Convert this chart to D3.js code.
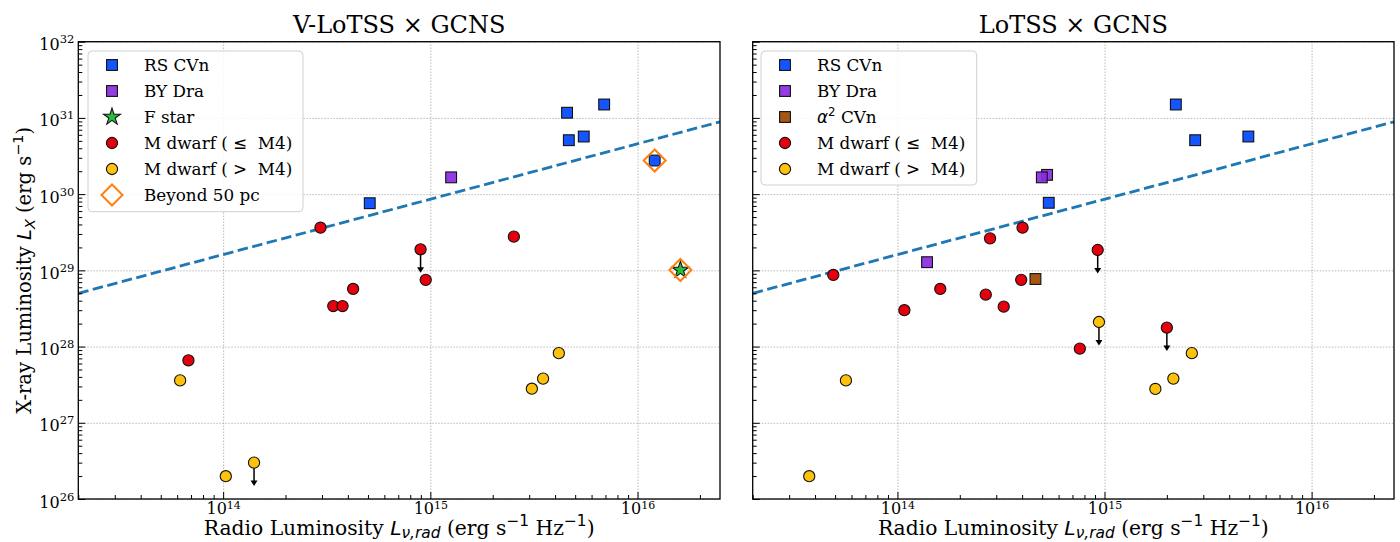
<!DOCTYPE html>
<html>
<head>
<meta charset="utf-8">
<script src="https://cdn.jsdelivr.net/npm/d3@7"></script>
<style>
body { margin: 0; background: #fff; }
svg text { font-family: "DejaVu Serif", serif; white-space: pre; fill: #000; }
</style>
</head>
<body>
<svg id="chart" width="1400" height="542"></svg>
<script>
/* --- Shared axes --- */
var xDomain = [2e13, 2.5e16];
var yDomain = [1e26, 1e32];
var xMajor = [1e14, 1e15, 1e16];
var yMajor = [1e26, 1e27, 1e28, 1e29, 1e30, 1e31, 1e32];

// dashed relation, two end points
var relLr = [2e13, 2.5e16];
var relLx = [5e28, 8.9e30];

/* --- V-LoTSS x GCNS --- */
var vRsCvnLr = [5.1e14, 4.57e15, 4.66e15, 5.5e15, 6.9e15, 1.21e16];
var vRsCvnLx = [7.6e29, 1.17e31, 5.1e30, 5.7e30, 1.5e31, 2.76e30];
var vByDraLr = [1.26e15];
var vByDraLx = [1.66e30];
var vFStarLr = [1.61e16];
var vFStarLx = [1.01e29];
var vMEarlyLr = [6.8e13, 2.95e14, 3.4e14, 3.77e14, 4.24e14, 8.97e14, 9.5e14, 2.53e15];
var vMEarlyLx = [6.6e27, 3.63e29, 3.4e28, 3.4e28, 5.7e28, 1.89e29, 7.5e28, 2.77e29];
var vMEarlyUL = [0, 0, 0, 0, 0, 1, 0, 0];
var vMLateLr = [6.2e13, 1.03e14, 1.41e14, 3.09e15, 3.5e15, 4.17e15];
var vMLateLx = [3.6e27, 1.99e26, 3.0e26, 2.8e27, 3.8e27, 8.2e27];
var vMLateUL = [0, 0, 1, 0, 0, 0];
var vFarLr = [1.21e16, 1.61e16];
var vFarLx = [2.76e30, 1.01e29];

/* --- LoTSS x GCNS --- */
var lRsCvnLr = [5.38e14, 2.21e15, 2.74e15, 4.95e15];
var lRsCvnLx = [7.7e29, 1.5e31, 5.1e30, 5.7e30];
var lByDraLr = [1.39e14, 5.28e14, 4.98e14];
var lByDraLx = [1.28e29, 1.79e30, 1.66e30];
var lAlphaLr = [4.64e14];
var lAlphaLx = [7.7e28];
var lMEarlyLr = [4.9e13, 1.08e14, 1.61e14, 2.67e14, 2.8e14, 3.26e14, 3.96e14, 4.02e14, 7.6e14, 9.27e14, 2.0e15];
var lMEarlyLx = [8.7e28, 3.0e28, 5.7e28, 4.8e28, 2.63e29, 3.34e28, 7.5e28, 3.63e29, 9.4e27, 1.85e29, 1.77e28];
var lMEarlyUL = [0, 0, 0, 0, 0, 0, 0, 0, 0, 1, 1];
var lMLateLr = [3.75e13, 5.64e13, 9.4e14, 1.76e15, 2.15e15, 2.64e15];
var lMLateLx = [1.99e26, 3.6e27, 2.1e28, 2.78e27, 3.8e27, 8.2e27];
var lMLateUL = [0, 0, 1, 0, 0, 0];

/* --- colours --- */
var cRsCvn = "#0047ff";
var cByDra = "#8a2be2";
var cAlpha = "#9c4a00";
var cFStar = "#25c03a";
var cMEarly = "#e6000d";
var cMLate = "#ffc20a";
var cFar = "#ff7f0e";
var cRel = "#1f77b4";

var svg = d3.select("#chart");
var sqSide = 10.8;
var circR = 5.6;

/* --- mixed serif / mathtext labels --- */
function richText(sel, parts, size, scale, subShift) {
    scale = scale || 0.7;
    subShift = subShift || 0.2;
    let shift = 0;
    parts.forEach(p => {
        let target = p.sup ? -0.42 * size : (p.sub ? subShift * size : 0);
        let t = sel.append("tspan").attr("dy", target - shift).text(p.t);
        shift = target;
        if (p.sup || p.sub) t.attr("font-size", size * scale);
        if (p.it) t.style("font-family", "'DejaVu Sans', sans-serif").attr("font-style", "italic");
        else if (p.sans) t.style("font-family", "'DejaVu Sans', sans-serif");
    });
}

function square(g, cx, cy, color, side) {
    g.append("rect")
        .attr("x", cx - side / 2).attr("y", cy - side / 2)
        .attr("width", side).attr("height", side)
        .attr("fill", color).attr("fill-opacity", 0.92)
        .attr("stroke", "#111").attr("stroke-width", 1.1);
}
function circle(g, cx, cy, color) {
    g.append("circle").attr("cx", cx).attr("cy", cy).attr("r", circR)
        .attr("fill", color).attr("stroke", "#111").attr("stroke-width", 1.1);
}
function star(g, cx, cy, color) {
    g.append("path").attr("d", d3.symbol().type(d3.symbolStar).size(88)())
        .attr("transform", "translate(" + cx + "," + cy + ")")
        .attr("fill", color).attr("stroke", "#111").attr("stroke-width", 1.1);
}
function diamond(g, cx, cy, half) {
    g.append("path")
        .attr("d", "M" + cx + "," + (cy - half) + "L" + (cx + half) + "," + cy + "L" + cx + "," + (cy + half) + "L" + (cx - half) + "," + cy + "Z")
        .attr("fill", "none").attr("stroke", cFar).attr("stroke-width", 2);
}

/* --- one panel --- */
function drawPanel(p) {
    let g = svg.append("g").attr("transform", "translate(" + p.left + "," + p.top + ")");
    let x = d3.scaleLog().domain(xDomain).range([0, p.width]);
    let y = d3.scaleLog().domain(yDomain).range([p.height, 0]);

    // grid
    let gx = g.append("g").attr("transform", "translate(0," + p.height + ")")
        .call(d3.axisBottom(x).tickValues(xMajor).tickSize(-p.height).tickFormat(""));
    let gy = g.append("g")
        .call(d3.axisLeft(y).tickValues(yMajor).tickSize(-p.width).tickFormat(""));
    [gx, gy].forEach(a => {
        a.select(".domain").remove();
        a.selectAll("line").attr("stroke", "#a8a8a8").attr("stroke-width", 0.8).attr("stroke-dasharray", "1.5,1.5");
    });

    // relation
    g.append("path")
        .datum(relLr.map((d, i) => [d, relLx[i]]))
        .attr("d", d3.line().x(d => x(d[0])).y(d => y(d[1])))
        .attr("fill", "none").attr("stroke", cRel).attr("stroke-width", 2.8)
        .attr("stroke-dasharray", "10.5,4.5");

    // points
    let pts = g.append("g");
    p.squares.forEach(s => s.lr.forEach((v, i) => square(pts, x(v), y(s.lx[i]), s.color, sqSide)));
    p.circles.forEach(s => s.lr.forEach((v, i) => {
        if (s.ul[i]) {
            let x0 = x(v), y0 = y(s.lx[i]), y1 = y(s.lx[i] / 2);
            pts.append("line").attr("x1", x0).attr("x2", x0).attr("y1", y0).attr("y2", y1 - 4)
                .attr("stroke", "#000").attr("stroke-width", 1.5);
            pts.append("path").attr("d", "M" + (x0 - 3.5) + "," + (y1 - 5) + "L" + (x0 + 3.5) + "," + (y1 - 5) + "L" + x0 + "," + (y1 + 0.5) + "Z")
                .attr("fill", "#000");
        }
        circle(pts, x(v), y(s.lx[i]), s.color);
    }));
    if (p.stars) p.stars.lr.forEach((v, i) => star(pts, x(v), y(p.stars.lx[i]), cFStar));
    if (p.far) p.far.lr.forEach((v, i) => diamond(pts, x(v), y(p.far.lx[i]), 11));

    // ticks
    let minorX = x.ticks().filter(d => xMajor.indexOf(d) < 0);
    let minorY = y.ticks().filter(d => yMajor.indexOf(d) < 0);
    let ax = g.append("g").attr("transform", "translate(0," + p.height + ")");
    ax.append("g").call(d3.axisBottom(x).tickValues(minorX).tickSize(-4).tickFormat(""));
    let axM = ax.append("g").call(d3.axisBottom(x).tickValues(xMajor).tickSize(-7).tickPadding(4).tickFormat(() => "10"));
    let ay = g.append("g");
    ay.append("g").call(d3.axisLeft(y).tickValues(minorY).tickSize(-4).tickFormat(""));
    let ayM = ay.append("g").call(d3.axisLeft(y).tickValues(yMajor).tickSize(-7).tickPadding(4).tickFormat(p.yLabels ? () => "10" : ""));
    [ax, ay].forEach(a => {
        a.selectAll(".domain").remove();
        a.selectAll("line").attr("stroke", "#000").attr("stroke-width", 1);
    });
    axM.selectAll("text").attr("font-size", 16).style("font-family", "'DejaVu Serif', serif").attr("dy", "0.71em")
        .append("tspan").attr("dy", -5.5).attr("font-size", 11).text(d => Math.round(Math.log10(d)));
    if (p.yLabels) {
        ayM.selectAll("text").attr("font-size", 16).style("font-family", "'DejaVu Serif', serif").attr("dy", "0.5em")
            .append("tspan").attr("dy", -7).attr("font-size", 11.5).text(d => Math.round(Math.log10(d)));
    }

    // frame
    g.append("rect").attr("width", p.width).attr("height", p.height)
        .attr("fill", "none").attr("stroke", "#000").attr("stroke-width", 1.3);

    // title and labels
    g.append("text").attr("x", p.width / 2).attr("y", -8.5).attr("text-anchor", "middle")
        .attr("font-size", 24).text(p.title);
    let xl = g.append("text").attr("x", p.width / 2).attr("y", p.height + 36)
        .attr("text-anchor", "middle").attr("font-size", 20.3);
    richText(xl, [
        {t: "Radio Luminosity "}, {t: "L", it: true}, {t: "ν,rad", it: true, sub: true},
        {t: " (erg s"}, {t: "−1", sup: true, sans: true}, {t: " Hz"}, {t: "−1", sup: true, sans: true}, {t: ")"}
    ], 20.3, 0.76, 0.13);
    if (p.yLabels) {
        let yl = g.append("text").attr("transform", "translate(" + (-47.5) + "," + (p.height / 2) + ") rotate(-90)")
            .attr("text-anchor", "middle").attr("font-size", 19.5);
        richText(yl, [
            {t: "X-ray Luminosity "}, {t: "L", it: true}, {t: "X", it: true, sub: true},
            {t: " (erg s"}, {t: "−1", sup: true, sans: true}, {t: ")"}
        ], 19.5, 0.74);
    }

    // legend
    let lg = g.append("g").attr("transform", "translate(" + p.legend.x + "," + p.legend.y + ")");
    lg.append("rect").attr("width", p.legend.w).attr("height", p.legend.h).attr("rx", 4)
        .attr("fill", "#fff").attr("fill-opacity", 0.85).attr("stroke", "#d0d0d0").attr("stroke-width", 1);
    p.legend.items.forEach((it, i) => {
        let cy = 14 + i * 26, cx = 24;
        if (it.kind == "square") square(lg, cx, cy, it.color, sqSide);
        else if (it.kind == "circle") circle(lg, cx, cy, it.color);
        else if (it.kind == "star") star(lg, cx, cy, it.color);
        else diamond(lg, cx, cy, 10.5);
        let t = lg.append("text").attr("x", 56).attr("y", cy + 6.3).attr("font-size", 16.8);
        richText(t, it.label, 16.8);
    });
}

var lblRs = [{t: "RS CVn"}];
var lblBy = [{t: "BY Dra"}];
var lblAlpha = [{t: "α", it: true}, {t: "2", sup: true, sans: true}, {t: " CVn"}];
var lblF = [{t: "F star"}];
var lblEarly = [{t: "M dwarf ( "}, {t: "≤", sans: true}, {t: "  M4)"}];
var lblLate = [{t: "M dwarf ( "}, {t: ">", sans: true}, {t: "  M4)"}];
var lblFar = [{t: "Beyond 50 pc"}];

drawPanel({
    left: 78.3, top: 41.7, width: 641.7, height: 457.3,
    title: "V-LoTSS × GCNS", yLabels: true,
    squares: [{lr: vRsCvnLr, lx: vRsCvnLx, color: cRsCvn}, {lr: vByDraLr, lx: vByDraLx, color: cByDra}],
    circles: [{lr: vMEarlyLr, lx: vMEarlyLx, ul: vMEarlyUL, color: cMEarly},
              {lr: vMLateLr, lx: vMLateLx, ul: vMLateUL, color: cMLate}],
    stars: {lr: vFStarLr, lx: vFStarLx},
    far: {lr: vFarLr, lx: vFarLx},
    legend: {x: 9.7, y: 9.3, w: 215, h: 160.7, items: [
        {kind: "square", color: cRsCvn, label: lblRs},
        {kind: "square", color: cByDra, label: lblBy},
        {kind: "star", color: cFStar, label: lblF},
        {kind: "circle", color: cMEarly, label: lblEarly},
        {kind: "circle", color: cMLate, label: lblLate},
        {kind: "diamond", label: lblFar}
    ]}
});

drawPanel({
    left: 752.7, top: 41.7, width: 641.3, height: 457.3,
    title: "LoTSS × GCNS", yLabels: false,
    squares: [{lr: lRsCvnLr, lx: lRsCvnLx, color: cRsCvn}, {lr: lByDraLr, lx: lByDraLx, color: cByDra},
              {lr: lAlphaLr, lx: lAlphaLx, color: cAlpha}],
    circles: [{lr: lMEarlyLr, lx: lMEarlyLx, ul: lMEarlyUL, color: cMEarly},
              {lr: lMLateLr, lx: lMLateLx, ul: lMLateUL, color: cMLate}],
    legend: {x: 8.3, y: 9.3, w: 215.7, h: 134, items: [
        {kind: "square", color: cRsCvn, label: lblRs},
        {kind: "square", color: cByDra, label: lblBy},
        {kind: "square", color: cAlpha, label: lblAlpha},
        {kind: "circle", color: cMEarly, label: lblEarly},
        {kind: "circle", color: cMLate, label: lblLate}
    ]}
});
</script>
</body>
</html>
